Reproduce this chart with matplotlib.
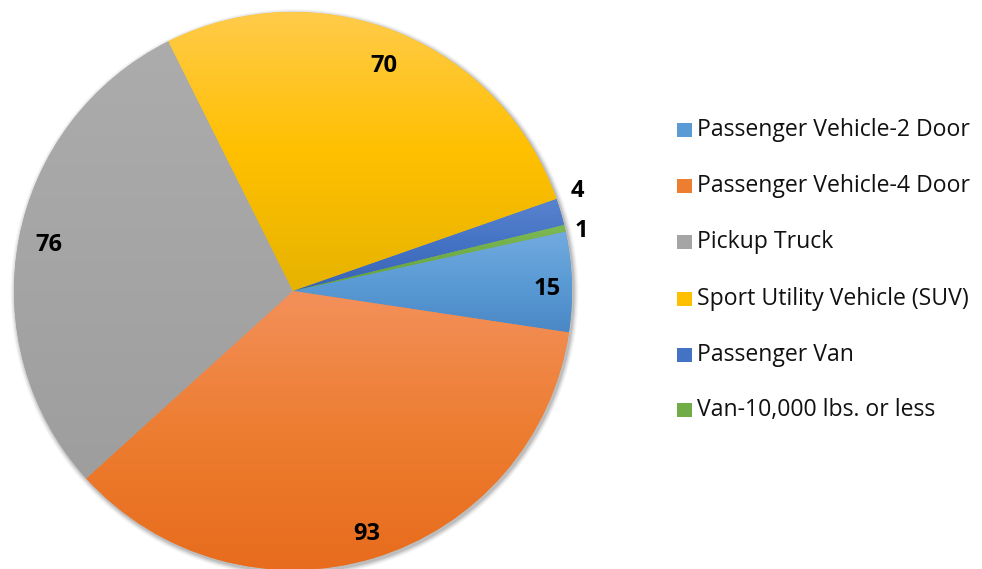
import numpy as np
import matplotlib
matplotlib.use("Agg")
import matplotlib.pyplot as plt
from matplotlib.patches import Rectangle, Circle
from matplotlib.colors import to_rgb

categories = ["Passenger Vehicle-2 Door", "Passenger Vehicle-4 Door", "Pickup Truck",
              "Sport Utility Vehicle (SUV)", "Passenger Van", "Van-10,000 lbs. or less"]
values = [15, 93, 76, 70, 4, 1]

base_colors = ["#5B9BD5", "#ED7D31", "#A5A5A5", "#FFC000", "#4472C4", "#70AD47"]
top_colors = ["#72AADF", "#F3905A", "#ACACAC", "#FFCB4A", "#5883CE", "#7DBA55"]
bot_colors = ["#4A88C6", "#E86C1C", "#9E9E9E", "#E6B300", "#3A64B3", "#62A03C"]
label_radius = [0.91, 0.91, 0.89, 0.87, 1.08, 1.055]
label_angle_shift = [-1.5, 0.0, 0.0, 0.0, 3.0, -1.2]

W, H = 982, 569
fig = plt.figure(figsize=(W / 100, H / 100), dpi=100)
ax = fig.add_axes([0, 0, 1, 1])
cx, cy, R = 293, 569 - 291, 279

# soft shadow
for k, a in [(5, 0.03), (4, 0.04), (3, 0.05), (2, 0.07), (1, 0.09)]:
    ax.add_patch(Circle((cx + 1.5, cy - 2), R + k, facecolor="black", alpha=a,
                        edgecolor="none", zorder=0))

wedges, _ = ax.pie(values, colors=base_colors, startangle=12.3, counterclock=False,
                   center=(cx, cy), radius=R, wedgeprops=dict(linewidth=0))

for w, top, base, bot in zip(wedges, top_colors, base_colors, bot_colors):
    bb = w.get_path().get_extents()
    n = 256
    t = np.linspace(0, 1, n)[:, None]
    c0, c1, c2 = (np.array(to_rgb(c)) for c in (top, base, bot))
    grad = np.where(t < 0.5, c0 + (c1 - c0) * (t / 0.5), c1 + (c2 - c1) * ((t - 0.5) / 0.5))
    img = grad[:, None, :]
    im = ax.imshow(img, extent=(bb.x0, bb.x1, bb.y0, bb.y1), origin="upper",
                   aspect="auto", zorder=2, interpolation="bilinear")
    im.set_clip_path(w)

total = sum(values)
ang = 12.3
for v, lr, sh in zip(values, label_radius, label_angle_shift):
    span = v / total * 360
    mid = np.deg2rad(ang - span / 2 + sh)
    ang -= span
    ax.text(cx + lr * R * np.cos(mid), cy + lr * R * np.sin(mid), str(v),
            ha="center", va="center", fontsize=17, fontweight="bold",
            family="Open Sans", color="black", zorder=5)

# legend
ys = [130, 186, 242, 299, 355, 410]
for lab, col, y in zip(categories, base_colors, ys):
    yy = H - y
    ax.add_patch(Rectangle((677, yy - 7), 15, 14, facecolor=col, edgecolor="none", zorder=5))
    ax.text(697, yy, lab, ha="left", va="center", fontsize=16.6, family="Open Sans",
            color="#111111", zorder=5)

ax.set_xlim(0, W)
ax.set_ylim(0, H)
ax.set_aspect("equal")
ax.axis("off")
fig.savefig("out.png", dpi=100)
